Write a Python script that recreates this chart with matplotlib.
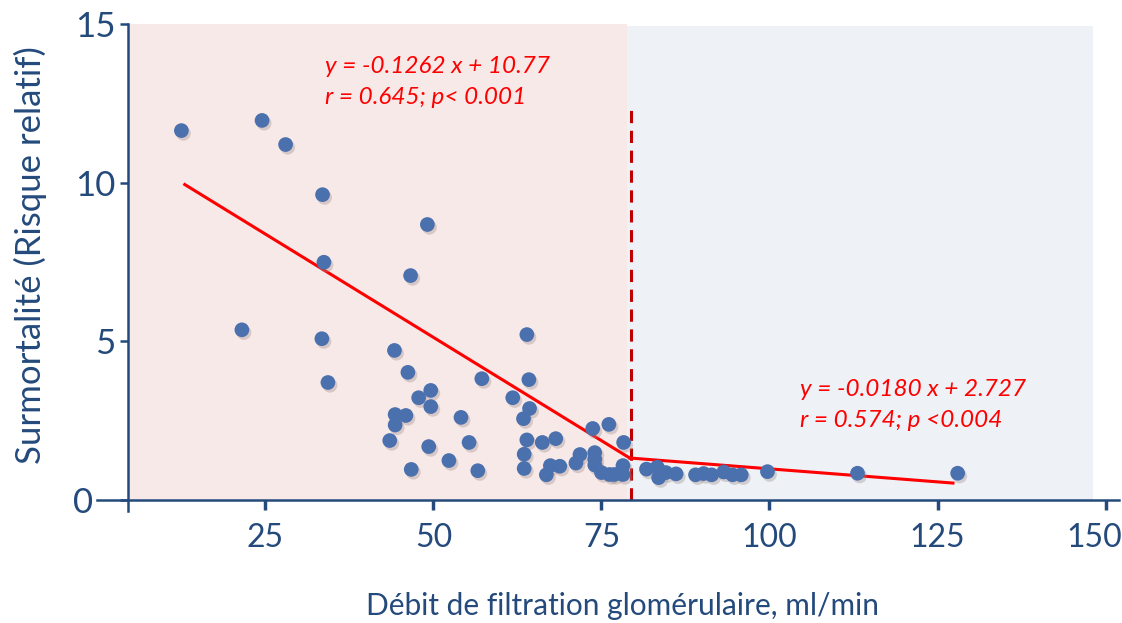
import matplotlib
matplotlib.use("Agg")
import matplotlib.pyplot as plt
import matplotlib.patheffects as pe
import matplotlib.transforms as mtransforms
from matplotlib.patches import Rectangle

plt.rcParams['font.family'] = ['Lato', 'DejaVu Sans']

# DFG (ml/min) vs surmortalite (risque relatif)
dfg = [12.5, 24.5, 28.0, 33.5, 49.1, 33.7, 46.6, 21.5, 33.4, 63.9,
       44.2, 34.3, 46.2, 57.2, 64.2, 49.6, 47.8, 49.6, 61.8, 64.3,
       63.4, 44.3, 45.9, 44.3, 54.1, 43.5, 49.3, 55.3, 52.3, 46.7,
       56.6, 63.9, 66.2, 68.2, 63.5, 63.5, 66.8, 67.4, 68.8, 71.2,
       71.8, 73.7, 76.1, 78.3, 74.0, 74.0, 74.0, 75.0, 76.2, 76.9,
       78.2, 78.2,
       81.7, 83.3, 83.5, 84.6, 86.1, 89.0, 90.2, 91.4, 93.2, 94.5,
       95.8, 99.7, 113.1, 128.0]
risque = [11.64, 11.96, 11.20, 9.62, 8.68, 7.49, 7.07, 5.36, 5.08, 5.21,
          4.71, 3.70, 4.02, 3.82, 3.79, 3.45, 3.22, 2.94, 3.22, 2.88,
          2.56, 2.69, 2.66, 2.36, 2.60, 1.87, 1.68, 1.81, 1.24, 0.96,
          0.92, 1.89, 1.81, 1.93, 1.44, 0.99, 0.79, 1.08, 1.06, 1.16,
          1.43, 2.25, 2.38, 1.81, 1.49, 1.28, 1.10, 0.86, 0.80, 0.80,
          0.80, 1.08,
          0.97, 1.03, 0.70, 0.86, 0.82, 0.79, 0.83, 0.79, 0.88, 0.79,
          0.79, 0.89, 0.84, 0.84]

# droites de regression (extremites)
fit1_x = [13.0, 79.2]
fit1_y = [9.94, 1.32]
fit2_x = [79.2, 127.3]
fit2_y = [1.32, 0.53]

seuil = 79.35
eq1 = ["y = -0.1262 x + 10.77", "r = 0.645; p< 0.001"]
eq2 = ["y = -0.0180 x + 2.727", "r = 0.574; p <0.004"]

bleu = '#244A7C'
rouge = '#FF0000'

fig = plt.figure(figsize=(11.22, 6.23), dpi=100)
ax = fig.add_axes([0.0868, 0.1798, 0.9105, 0.7817])
ax.set_xlim(0, 152)
ax.set_ylim(-0.35, 15)

# zones de fond
ax.add_patch(Rectangle((4.5, 0), 78.75 - 4.5, 15, color='#F8E9E9', lw=0, zorder=0))
ax.add_patch(Rectangle((78.75, 0), 148.1 - 78.75, 14.94, color='#EEF1F6', lw=0, zorder=0))

ax.plot([seuil, seuil], [0, 12.33], color='#C00000', lw=2.2, ls=(0, (4, 2.5)), zorder=2)

ax.plot(fit1_x, fit1_y, color=rouge, lw=2.2, zorder=2)
ax.plot(fit2_x, fit2_y, color=rouge, lw=2.2, zorder=2)

sc = ax.scatter(dfg, risque, s=112, color='#4A70AE', lw=0, zorder=3)
sc.set_path_effects([pe.SimplePatchShadow(offset=(1.5, -2), shadow_rgbFace='#9a8a8a', alpha=0.35),
                     pe.Normal()])

for i, t in enumerate(eq1):
    ax.text(33.9, 13.66 - i * 0.98, t, color=rouge, style='italic', fontsize=17.5,
            ha='left', va='center', zorder=4)
for i, t in enumerate(eq2):
    ax.text(104.5, 3.47 - i * 0.98, t, color=rouge, style='italic', fontsize=17.5,
            ha='left', va='center', zorder=4)

# axes
for s in ['top', 'right']:
    ax.spines[s].set_visible(False)
ax.spines['left'].set_position(('data', 4.5))
ax.spines['bottom'].set_position(('data', 0))
for s in ['left', 'bottom']:
    ax.spines[s].set_color(bleu)
    ax.spines[s].set_linewidth(1.8)

ax.set_xticks([25, 50, 75, 100, 125, 150])
ax.set_yticks([0, 5, 10, 15])
ax.tick_params(axis='x', direction='out', length=7, width=2.5, colors=bleu,
               labelsize=23, pad=10)
ax.tick_params(axis='y', direction='out', length=6, width=1.8, colors=bleu,
               labelsize=25, pad=3)

# dernier label x un peu vers la gauche, label 0 decale a gauche de l'axe x
last = ax.get_xticklabels()[-1]
last.set_transform(last.get_transform() + mtransforms.ScaledTranslation(-8 / 72, 0, fig.dpi_scale_trans))
zero = ax.get_yticklabels()[0]
zero.set_transform(zero.get_transform() + mtransforms.ScaledTranslation(-16 / 72, 0, fig.dpi_scale_trans))

fig.text(0.555, 0.028, "Débit de filtration glomérulaire, ml/min", color=bleu,
         fontsize=21.5, ha='center', va='center')
fig.text(0.027, 0.59, "Surmortalité (Risque relatif)", color=bleu,
         fontsize=25, ha='center', va='center', rotation=90)

fig.savefig('out.png', dpi=100)
